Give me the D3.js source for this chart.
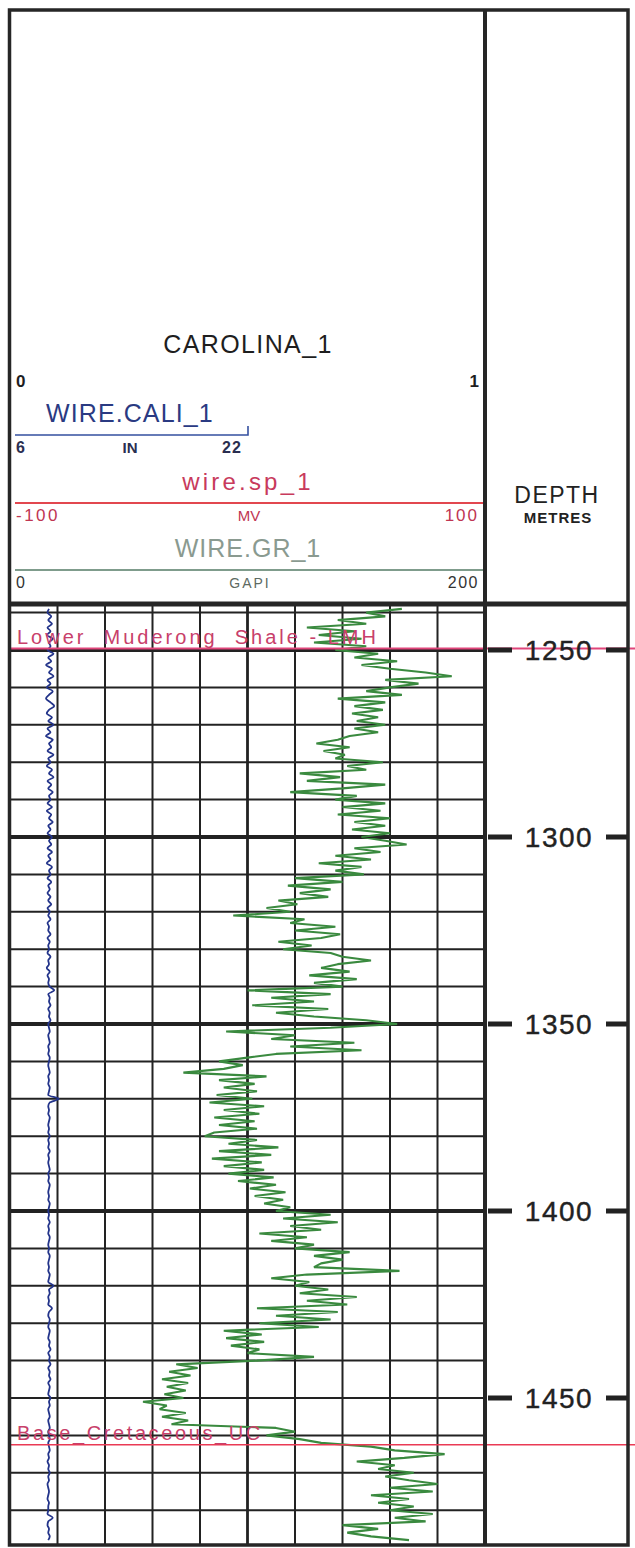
<!DOCTYPE html>
<html>
<head>
<meta charset="utf-8">
<script src="https://cdn.jsdelivr.net/npm/d3@7"></script>
<style>
body { margin: 0; background: #ffffff; }
svg { display: block; font-family: 'Liberation Sans', Arial, sans-serif; }
</style>
</head>
<body>
<div id="plot"></div>
<script>
var width = 635;
var height = 1548;

// log samples start at 1239 m, one every metre
var depth_top = 1239;
var depth_step = 1;

// WIRE.GR_1 (GAPI)
var gr_values = [
    165,150,158,138,150,125,145,130,148,128,
    150,137,155,145,163,148,160,175,186,158,
    172,160,150,165,138,158,145,157,144,155,
    146,158,145,155,143,138,129,143,132,141,
    137,157,142,150,122,139,125,158,140,118,
    146,137,158,140,156,138,160,145,158,144,
    160,148,158,167,145,156,137,152,130,148,
    137,149,120,140,117,135,122,134,113,121,
    108,118,94,124,118,137,120,139,131,113,
    127,115,135,140,152,138,131,143,126,146,
    128,140,100,135,110,128,102,134,112,128,
    150,163,135,91,120,110,145,118,148,112,
    100,88,98,90,73,108,88,103,90,104,
    87,102,84,107,90,105,86,103,88,104,
    86,82,104,92,113,88,110,85,106,90,
    107,92,111,96,112,101,116,103,115,107,
    118,112,135,115,138,118,131,105,125,110,
    128,120,143,128,140,131,128,164,125,110,
    126,120,134,122,146,125,142,104,138,112,
    135,105,130,90,106,91,107,93,105,100,
    128,104,70,79,67,76,64,75,66,74,
    65,73,56,66,63,74,64,75,68,112,
    120,108,122,131,152,162,183,166,146,162,
    155,170,158,168,180,160,178,152,168,155,
    170,160,178,162,175,140,155,142,152,168
];

// WIRE.CALI_1 (IN)
var cali_values = [
    8.6,8.5,8.75,8.55,8.8,8.5,8.7,8.45,8.85,8.6,8.7,8.5,8.9,8.55,8.75,8.4,8.8,8.6,8.9,8.5,8.7,8.45,
    8.85,8.6,8.4,8.7,8.95,8.6,8.45,8.8,8.55,8.9,8.5,8.7,8.4,8.85,8.6,8.75,8.5,8.9,8.55,8.7,
    8.45,8.8,8.6,8.9,8.5,8.75,8.55,8.85,8.6,8.7,8.5,8.8,8.45,8.75,8.6,8.85,8.55,8.7,8.5,8.8,
    8.6,8.75,8.5,8.8,8.55,8.7,8.45,8.8,8.6,8.7,8.5,8.75,8.55,8.65,8.5,8.7,8.55,8.75,8.5,8.65,
    8.55,8.7,8.5,8.6,8.55,8.7,8.5,8.65,8.55,8.6,8.5,8.7,8.55,8.6,8.45,8.65,8.5,8.6,8.55,8.65,
    8.95,8.55,8.65,8.6,8.7,8.55,8.65,8.6,8.7,8.55,8.6,8.65,8.55,8.6,8.65,8.55,8.6,8.55,8.65,8.6,
    8.55,8.6,8.65,8.55,8.6,8.55,8.65,8.6,8.55,9.25,8.65,8.55,8.6,8.55,8.65,8.6,8.55,8.6,8.55,8.65,
    8.55,8.6,8.55,8.65,8.55,8.6,8.55,8.6,8.65,8.55,8.6,8.55,8.65,8.6,8.55,8.6,8.55,8.65,8.6,8.55,
    8.6,8.55,8.65,8.55,8.6,8.55,8.65,8.6,8.55,8.6,8.55,8.65,8.6,8.55,8.6,8.55,8.65,8.6,8.55,8.9,
    8.6,8.65,8.55,8.6,8.55,8.8,8.6,8.55,8.65,8.6,8.55,8.65,8.6,8.55,8.65,8.6,8.7,8.55,8.65,8.6,
    8.7,8.55,8.65,8.6,8.7,8.55,8.65,8.6,8.55,8.7,8.6,8.65,8.55,8.6,8.65,8.55,8.6,8.65,8.55,8.6,
    8.65,8.55,8.6,8.65,8.55,8.6,8.5,8.6,8.55,8.65,8.55,8.6,8.5,8.55,8.6,8.55,8.5,8.6,8.55,8.55,
    8.5,8.85,8.55,8.5,8.6,8.55,8.65,8.55
];

// formation tops
var top_names = ['Lower  Muderong  Shale - LMH', 'Base_Cretaceous_UC'];
var top_depths = [1249.6, 1462.5];

var depth_labels = [1250, 1300, 1350, 1400, 1450];
var heavy_depths = [1250, 1300, 1350, 1400];
var grid_depths = d3.range(1240, 1490, 10);

var canvas = d3.select('#plot')
    .append('svg')
    .attr('width', width)
    .attr('height', height);

var track_left = 10;
var track_right = 485;
var track_top = 606;
var track_bottom = 1545;
var frame_right = 628;

var x_gr = d3.scaleLinear().domain([0, 200]).range([track_left, track_right]);
var x_cali = d3.scaleLinear().domain([6, 22]).range([track_left, 250]);
var y_depth = d3.scaleLinear().domain([1250, 1450]).range([650, 1398]);

var gr_data = gr_values.map(function(v, i) { return {depth: depth_top + i * depth_step, value: v}; });
var cali_data = cali_values.map(function(v, i) { return {depth: depth_top + i * depth_step, value: v}; });

// ---- track grid
var grid = canvas.append('g').attr('class', 'grid');
grid.selectAll('line.hgrid')
    .data(grid_depths)
    .enter()
    .append('line')
    .attr('class', 'hgrid')
    .attr('x1', track_left)
    .attr('x2', track_right)
    .attr('y1', function(d) { return y_depth(d); })
    .attr('y2', function(d) { return y_depth(d); })
    .attr('stroke', '#222222')
    .attr('stroke-width', function(d) { return heavy_depths.indexOf(d) >= 0 ? 3.8 : 2; });

var vticks = x_gr.ticks(10).filter(function(d) { return d > 0 && d < 200; });
grid.selectAll('line.vgrid')
    .data(vticks)
    .enter()
    .append('line')
    .attr('class', 'vgrid')
    .attr('x1', function(d) { return x_gr(d); })
    .attr('x2', function(d) { return x_gr(d); })
    .attr('y1', track_top)
    .attr('y2', track_bottom)
    .attr('stroke', '#222222')
    .attr('stroke-width', function(d) { return d == 100 ? 2.8 : 2; });

// ---- curves
canvas.append('clipPath')
    .attr('id', 'track-clip')
    .append('rect')
    .attr('x', track_left)
    .attr('y', track_top)
    .attr('width', track_right - track_left)
    .attr('height', track_bottom - track_top);

var gr_line = d3.line()
    .x(function(d) { return x_gr(d.value); })
    .y(function(d) { return y_depth(d.depth); });

canvas.append('path')
    .attr('class', 'gr')
    .attr('clip-path', 'url(#track-clip)')
    .attr('d', gr_line(gr_data))
    .attr('fill', 'none')
    .attr('stroke', '#3a8a3f')
    .attr('stroke-width', 2.1)
    .attr('stroke-linejoin', 'bevel');

var cali_line = d3.line()
    .curve(d3.curveMonotoneY)
    .x(function(d) { return x_cali(d.value); })
    .y(function(d) { return y_depth(d.depth); });

canvas.append('path')
    .attr('class', 'cali')
    .attr('clip-path', 'url(#track-clip)')
    .attr('d', cali_line(cali_data))
    .attr('fill', 'none')
    .attr('stroke', '#23348a')
    .attr('stroke-width', 1.8);

// ---- formation tops
canvas.selectAll('line.top')
    .data(top_depths)
    .enter()
    .append('line')
    .attr('class', 'top')
    .attr('x1', track_left)
    .attr('x2', width)
    .attr('y1', function(d) { return y_depth(d); })
    .attr('y2', function(d) { return y_depth(d); })
    .attr('stroke', function(d, i) { return i == 0 ? '#e0457a' : '#ea3a55'; })
    .attr('stroke-width', function(d, i) { return i == 0 ? 2.2 : 1.6; });

canvas.selectAll('text.top')
    .data(top_names)
    .enter()
    .append('text')
    .attr('class', 'top')
    .attr('x', 17)
    .attr('y', function(d, i) { return y_depth(top_depths[i]) - 5; })
    .attr('font-size', 20)
    .attr('letter-spacing', function(d, i) { return i == 0 ? 3 : 2.6; })
    .attr('fill', '#c8406a')
    .style('white-space', 'pre')
    .text(function(d) { return d; });

// ---- depth column
canvas.selectAll('text.depth')
    .data(depth_labels)
    .enter()
    .append('text')
    .attr('class', 'depth')
    .attr('x', 559)
    .attr('y', function(d) { return y_depth(d) + 10; })
    .attr('text-anchor', 'middle')
    .attr('font-size', 28)
    .attr('letter-spacing', 1.5)
    .attr('fill', '#222222')
    .attr('stroke', '#222222')
    .attr('stroke-width', 0.4)
    .text(function(d) { return d; });

canvas.selectAll('rect.dash-left')
    .data(depth_labels)
    .enter()
    .append('rect')
    .attr('x', 488)
    .attr('y', function(d) { return y_depth(d) - 2.5; })
    .attr('width', 24)
    .attr('height', 5)
    .attr('fill', '#222222');

canvas.selectAll('rect.dash-right')
    .data(depth_labels)
    .enter()
    .append('rect')
    .attr('x', 606)
    .attr('y', function(d) { return y_depth(d) - 2.5; })
    .attr('width', 22)
    .attr('height', 5)
    .attr('fill', '#222222');

canvas.append('text')
    .attr('x', 557)
    .attr('y', 503)
    .attr('text-anchor', 'middle')
    .attr('font-size', 23)
    .attr('letter-spacing', 1.5)
    .attr('fill', '#222222')
    .text('DEPTH');

canvas.append('text')
    .attr('x', 558)
    .attr('y', 523)
    .attr('text-anchor', 'middle')
    .attr('font-size', 15)
    .attr('font-weight', 'bold')
    .attr('letter-spacing', 1)
    .attr('fill', '#222222')
    .text('METRES');

// ---- header
var header = canvas.append('g').attr('class', 'header');

header.append('text')
    .attr('x', 248).attr('y', 353)
    .attr('text-anchor', 'middle')
    .attr('font-size', 25)
    .attr('letter-spacing', 1.4)
    .attr('fill', '#1e1e1e')
    .text('CAROLINA_1');

header.append('text')
    .attr('x', 16).attr('y', 387)
    .attr('font-size', 17).attr('font-weight', 'bold')
    .attr('fill', '#1e1e1e')
    .text('0');
header.append('text')
    .attr('x', 479).attr('y', 387)
    .attr('text-anchor', 'end')
    .attr('font-size', 17).attr('font-weight', 'bold')
    .attr('fill', '#1e1e1e')
    .text('1');

// caliper scale
header.append('text')
    .attr('x', 46).attr('y', 422)
    .attr('font-size', 25)
    .attr('letter-spacing', 1.1)
    .attr('fill', '#2a3a82')
    .text('WIRE.CALI_1');
header.append('path')
    .attr('d', d3.line()([[x_cali(6) + 5, 435], [x_cali(22) - 2, 435], [x_cali(22) - 2, 426]]))
    .attr('fill', 'none')
    .attr('stroke', '#3550a0')
    .attr('stroke-width', 1.6);
header.append('text')
    .attr('x', 16).attr('y', 453)
    .attr('font-size', 16).attr('font-weight', 'bold')
    .attr('fill', '#2a2e50')
    .text('6');
header.append('text')
    .attr('x', 130).attr('y', 453)
    .attr('text-anchor', 'middle')
    .attr('font-size', 15).attr('font-weight', 'bold')
    .attr('fill', '#2a2e50')
    .text('IN');
header.append('text')
    .attr('x', 232).attr('y', 453)
    .attr('text-anchor', 'middle')
    .attr('font-size', 16).attr('font-weight', 'bold')
    .attr('letter-spacing', 1)
    .attr('fill', '#2a2e50')
    .text('22');

// sp scale
header.append('text')
    .attr('x', 248).attr('y', 490)
    .attr('text-anchor', 'middle')
    .attr('font-size', 24)
    .attr('letter-spacing', 3.2)
    .attr('fill', '#c83a5c')
    .text('wire.sp_1');
header.append('line')
    .attr('x1', 15).attr('x2', track_right - 2)
    .attr('y1', 503).attr('y2', 503)
    .attr('stroke', '#e2474f')
    .attr('stroke-width', 2);
header.append('text')
    .attr('x', 16).attr('y', 521)
    .attr('font-size', 17)
    .attr('letter-spacing', 2.5)
    .attr('fill', '#c03552')
    .text('-100');
header.append('text')
    .attr('x', 249).attr('y', 521)
    .attr('text-anchor', 'middle')
    .attr('font-size', 15)
    .attr('fill', '#c03552')
    .text('MV');
header.append('text')
    .attr('x', 479).attr('y', 521)
    .attr('text-anchor', 'end')
    .attr('font-size', 17)
    .attr('letter-spacing', 2)
    .attr('fill', '#c03552')
    .text('100');

// gr scale
header.append('text')
    .attr('x', 248).attr('y', 557)
    .attr('text-anchor', 'middle')
    .attr('font-size', 25)
    .attr('letter-spacing', 1)
    .attr('fill', '#8a9a90')
    .text('WIRE.GR_1');
header.append('line')
    .attr('x1', 15).attr('x2', track_right - 2)
    .attr('y1', 570).attr('y2', 570)
    .attr('stroke', '#7f9c8c')
    .attr('stroke-width', 2);
header.append('text')
    .attr('x', 16).attr('y', 588)
    .attr('font-size', 16)
    .attr('fill', '#333333')
    .text('0');
header.append('text')
    .attr('x', 250).attr('y', 588)
    .attr('text-anchor', 'middle')
    .attr('font-size', 14)
    .attr('letter-spacing', 2)
    .attr('fill', '#5d6a62')
    .text('GAPI');
header.append('text')
    .attr('x', 479).attr('y', 588)
    .attr('text-anchor', 'end')
    .attr('font-size', 16)
    .attr('letter-spacing', 1.5)
    .attr('fill', '#333333')
    .text('200');

// ---- frame
var frame = canvas.append('g').attr('class', 'frame')
    .attr('fill', 'none')
    .attr('stroke', '#262626');
frame.append('rect')
    .attr('x', 9.5).attr('y', 10)
    .attr('width', frame_right - 9.5)
    .attr('height', track_bottom - 10)
    .attr('stroke-width', 3.5);
frame.append('line')
    .attr('x1', track_right).attr('x2', track_right)
    .attr('y1', 10).attr('y2', track_bottom)
    .attr('stroke-width', 4);
frame.append('line')
    .attr('x1', 9.5).attr('x2', frame_right)
    .attr('y1', 604).attr('y2', 604)
    .attr('stroke-width', 5);
</script>
</body>
</html>
